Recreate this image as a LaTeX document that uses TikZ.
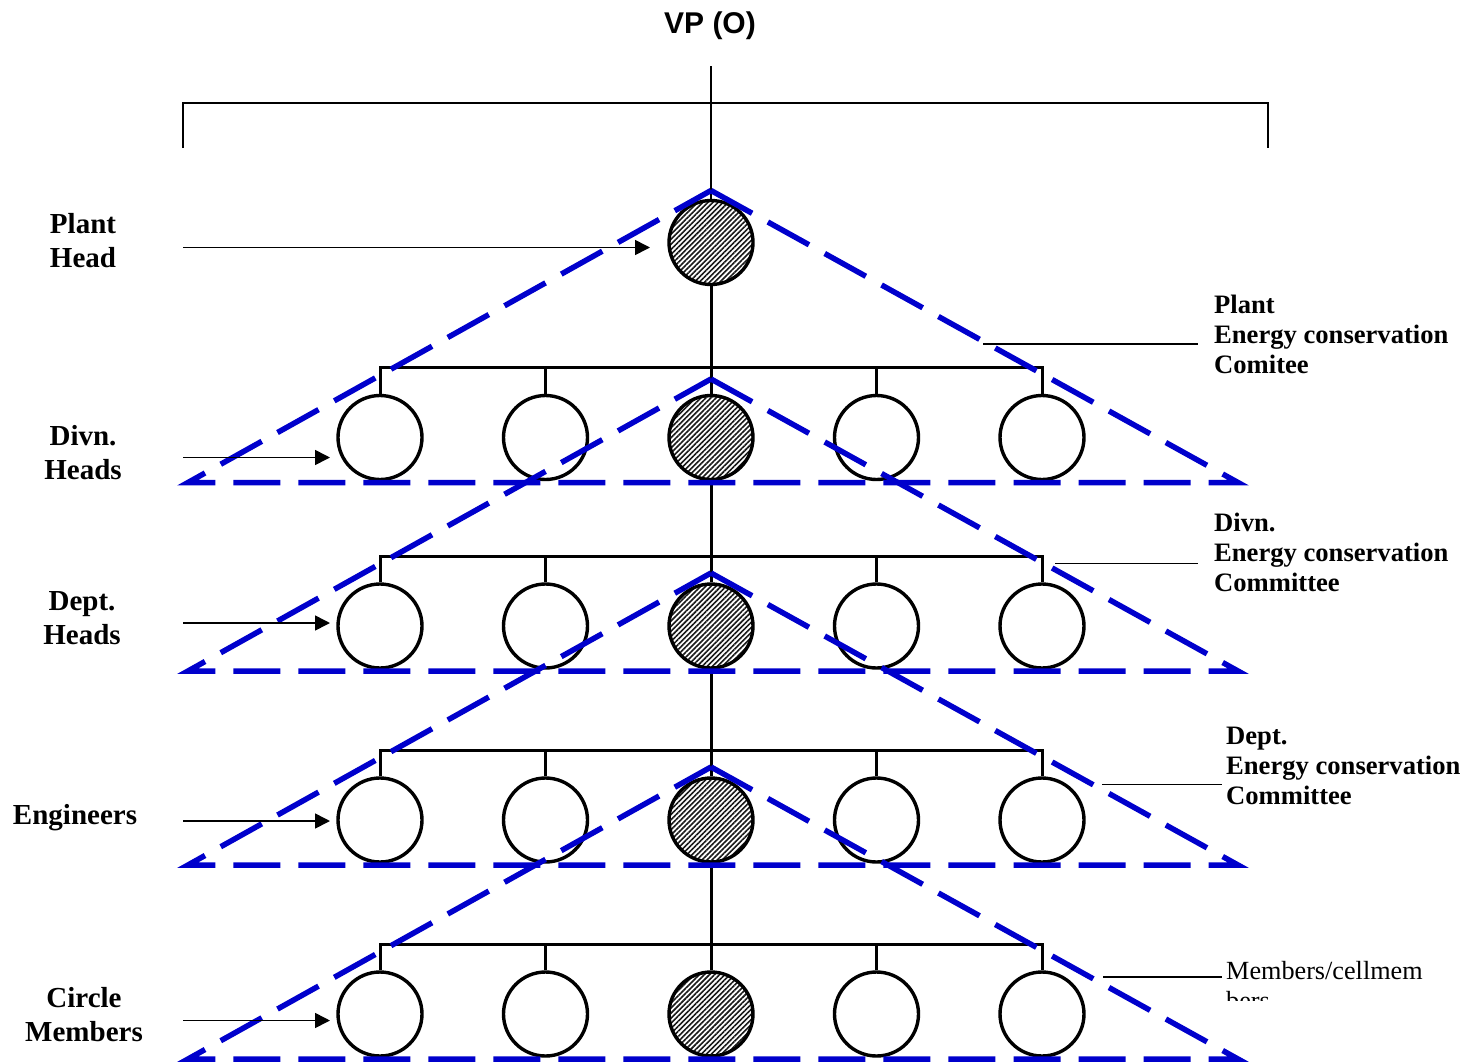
\documentclass[tikz,border=0pt]{standalone}
\usepackage{fontspec}
\setmainfont{Liberation Serif}
\newfontfamily\arialfont{Liberation Sans}
\usetikzlibrary{arrows.meta,patterns.meta}
\definecolor{dashblue}{RGB}{0,0,204}
\begin{document}
\begin{tikzpicture}[x=1pt,y=-1pt,
  member/.style={circle,draw=black,line width=3.4pt,minimum size=84pt,inner sep=0pt,fill=white},
  hatched/.style={circle,draw=black,line width=3.4pt,minimum size=84pt,inner sep=0pt,
     preaction={fill=white},pattern={Lines[angle=45,distance=3.6pt,line width=1.6pt]},pattern color=black!90},
  tree/.style={line width=3pt,draw=black},
  thinline/.style={line width=2pt,draw=black},
  tri/.style={draw=dashblue,line width=5.5pt,dash pattern=on 47pt off 18pt,line join=miter},
  arr/.style={line width=1.6pt,-{Triangle[length=15pt,width=15pt]}},
  lead/.style={line width=1.6pt},
  lefttext/.style={font=\bfseries\fontsize{29}{34}\selectfont,align=center,inner sep=0pt,anchor=north},
  righttext/.style={font=\bfseries\fontsize{26.6}{30}\selectfont,align=left,inner sep=0pt,anchor=north west},
  memtext/.style={font=\fontsize{26.2}{30}\selectfont,align=left,inner sep=0pt,anchor=north west}]
\useasboundingbox (0,0) rectangle (1481,1063);

% title and bracket
\node[font=\arialfont\bfseries\fontsize{30}{36}\selectfont,inner sep=0pt,anchor=base] (vp) at (710,33) {VP (O)};
\coordinate (vpline) at (711,66);
\coordinate (brL) at (183,148);
\coordinate (brLt) at (183,103);
\coordinate (brRt) at (1268,103);
\coordinate (brR) at (1268,148);
\draw[thinline] (brL) -- (brLt) -- (brRt) -- (brR);

% plant head
\node[hatched] (ph) at (711,242.5) {};
\draw[thinline] (vpline) -- (ph.north);

% rows of members
\foreach \r/\cy in {1/437.5,2/626,3/820,4/1014}{
  \node[member] (r\r c1) at (380,\cy) {};
  \node[member] (r\r c2) at (545.5,\cy) {};
  \node[hatched] (r\r c3) at (711,\cy) {};
  \node[member] (r\r c4) at (876.5,\cy) {};
  \node[member] (r\r c5) at (1042,\cy) {};
  \draw[tree] (r\r c1.north) -- ++(0,-26.3) -| (r\r c5.north);
  \foreach \i in {2,3,4}{\draw[tree] (r\r c\i.north) -- ++(0,-26.3);}
}
\draw[tree] (ph.south) -- (r1c3.north);
\draw[tree] (r1c3.south) -- (r2c3.north);
\draw[tree] (r2c3.south) -- (r3c3.north);
\draw[tree] (r3c3.south) -- (r4c3.north);

% dashed triangles
\foreach \cy in {437.5,626,820,1014}{
  \draw[tri] (711,{\cy-247}) -- (1238,{\cy+45}) -- (188,{\cy+45}) -- cycle;
}

% left labels and arrows
\node[lefttext] (lPH) at (83,213) {Plant\\Head};
\node[lefttext] (lDH) at (83,425) {Divn.\\Heads};
\node[lefttext] (lDpH) at (82,591) {Dept.\\Heads};
\node[lefttext] (lEn) at (75,804) {Engineers};
\node[lefttext] (lCM) at (84,987) {Circle\\Members};

\coordinate (a1s) at (183,247.5); \coordinate (a1e) at (650,247.5);
\coordinate (a2s) at (183,457.5); \coordinate (a2e) at (330,457.5);
\coordinate (a3s) at (183,623); \coordinate (a3e) at (330,623);
\coordinate (a4s) at (183,821); \coordinate (a4e) at (330,821);
\coordinate (a5s) at (183,1020.5); \coordinate (a5e) at (330,1020.5);
\draw[arr] (a1s) -- (a1e);
\draw[arr] (a2s) -- (a2e);
\draw[arr] (a3s) -- (a3e);
\draw[arr] (a4s) -- (a4e);
\draw[arr] (a5s) -- (a5e);

% right labels and leaders
\node[righttext] (rPl) at (1214,294.5) {Plant\\Energy conservation\\Comitee};
\node[righttext] (rDv) at (1214,512.5) {Divn.\\Energy conservation\\Committee};
\node[righttext] (rDp) at (1226,726.5) {Dept.\\Energy conservation\\Committee};
\begin{scope}
  \clip (1200,940) rectangle (1481,1000);
  \node[memtext] (rMb) at (1226,961) {Members/cellmem\\bers};
\end{scope}
\coordinate (l1s) at (983,344); \coordinate (l1e) at (1198,344);
\coordinate (l2s) at (1055,563.5); \coordinate (l2e) at (1198,563.5);
\coordinate (l3s) at (1102,784.5); \coordinate (l3e) at (1222,784.5);
\coordinate (l4s) at (1103,977); \coordinate (l4e) at (1222,977);
\draw[lead] (l1s) -- (l1e);
\draw[lead] (l2s) -- (l2e);
\draw[lead] (l3s) -- (l3e);
\draw[lead] (l4s) -- (l4e);
\end{tikzpicture}
\end{document}
